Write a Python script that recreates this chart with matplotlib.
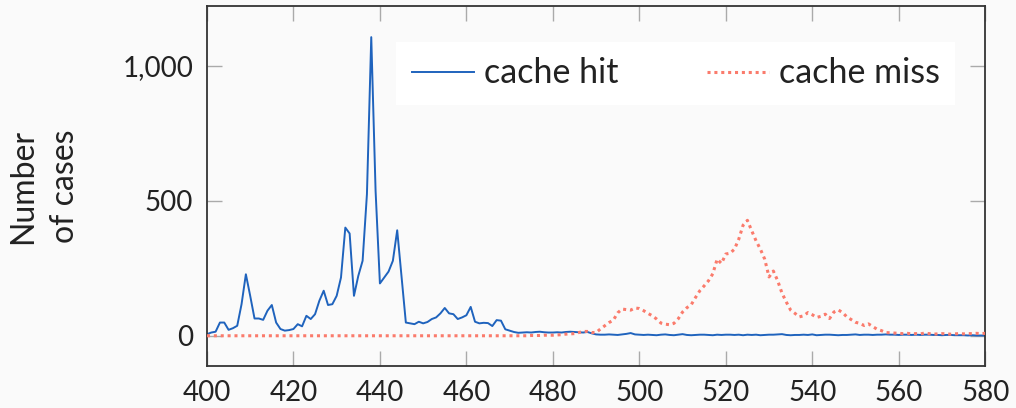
import matplotlib
matplotlib.use("Agg")
import matplotlib.pyplot as plt
from matplotlib.ticker import FuncFormatter

# x positions (one sample per unit)
x_vals = list(range(400, 581))

# cache hit counts, 400..580
hit = [
    6, 12, 15, 49, 49, 22, 28, 37, 117, 228,
    148, 64, 64, 59, 93, 114, 49, 25, 19, 21,
    25, 43, 35, 74, 62, 80, 130, 167, 114, 117,
    148, 216, 401, 379, 148, 222, 278, 525, 1107, 537,
    194, 216, 238, 278, 391, 220, 49, 46, 43, 52,
    46, 51, 62, 68, 83, 103, 83, 80, 62, 68,
    76, 107, 52, 46, 48, 47, 36, 58, 56, 24,
    19, 14, 11, 12, 13, 12, 14, 15, 13, 12,
    12, 13, 12, 14, 15, 14, 13, 12, 14, 9,
    5, 4, 4, 5, 4, 3, 5, 7, 10, 5,
    4, 3, 4, 3, 2, 4, 5, 3, 2, 4,
    6, 3, 2, 3, 4, 4, 3, 2, 4, 3,
    4, 4, 3, 4, 2, 4, 3, 4, 2, 3,
    4, 4, 5, 6, 3, 2, 3, 3, 4, 3,
    5, 2, 3, 4, 4, 3, 2, 3, 3, 4,
    5, 3, 4, 4, 3, 4, 4, 5, 4, 4,
    3, 4, 4, 3, 4, 3, 4, 4, 3, 3,
    2, 3, 3, 2, 2, 2, 1, 2, 1, 1,
    1,
]

# cache miss counts, 400..580
miss = [
    0, 0, 0, 0, 0, 0, 0, 0, 0, 0,
    0, 0, 0, 0, 0, 0, 0, 0, 0, 0,
    0, 0, 0, 0, 0, 0, 0, 0, 0, 0,
    0, 0, 0, 0, 0, 0, 0, 0, 0, 0,
    0, 0, 0, 0, 0, 0, 0, 0, 0, 0,
    0, 0, 0, 0, 0, 0, 0, 0, 0, 0,
    0, 0, 0, 0, 0, 0, 0, 0, 0, 0,
    0, 0, 0, 0, 0, 1, 1, 1, 2, 2,
    2, 3, 4, 6, 7, 8, 12, 16, 16, 12,
    12, 25, 37, 49, 58, 85, 99, 97, 95, 103,
    101, 93, 83, 74, 62, 47, 43, 41, 46, 63,
    88, 104, 115, 142, 167, 185, 204, 230, 284, 268,
    303, 306, 321, 358, 410, 428, 389, 352, 321, 284,
    218, 240, 204, 158, 125, 95, 83, 70, 74, 86,
    78, 68, 72, 80, 64, 88, 96, 86, 70, 60,
    50, 46, 38, 44, 34, 24, 19, 12, 11, 10,
    9, 8, 9, 7, 8, 7, 10, 8, 6, 7,
    8, 7, 6, 7, 8, 7, 8, 8, 9, 8,
    9,
]

x_ticks = [400, 420, 440, 460, 480, 500, 520, 540, 560, 580]
y_ticks = [0, 500, 1000]

assert len(hit) == len(x_vals) and len(miss) == len(x_vals)

plt.rcParams['font.family'] = ['Lato', 'DejaVu Sans']

bg = '#fafafa'
fig = plt.figure(figsize=(10.16, 4.08), dpi=100, facecolor=bg)
ax = fig.add_axes([0.2037, 0.103, 0.766, 0.882])
ax.set_facecolor(bg)

ax.plot(x_vals, hit, color='#1f63bd', lw=1.4, label='cache hit', zorder=2)
ax.plot(x_vals, miss, color='#fa7b6c', lw=2.2, linestyle=(0, (1, 1.25)),
        label='cache miss', zorder=3)

ax.set_xlim(400, 580)
ax.set_ylim(-112, 1222)
ax.set_xticks(x_ticks)
ax.set_yticks(y_ticks)
ax.yaxis.set_major_formatter(FuncFormatter(lambda v, p: '{:,.0f}'.format(v)))

ax.tick_params(direction='in', length=11, width=1, color='#aaaaaa',
               top=True, right=True, labelsize=20, labelcolor='#222222', pad=10)
for s in ax.spines.values():
    s.set_color('#333333')
    s.set_linewidth(1.3)

ax.set_ylabel('Number\nof cases', fontsize=23, color='#222222', linespacing=1.5,
              multialignment='center')
ax.yaxis.set_label_coords(-0.163, 0.5)

leg = ax.legend(loc='upper right', bbox_to_anchor=(0.9614, 0.9), ncol=2,
                fontsize=24.5, frameon=True, fancybox=False, framealpha=1,
                handlelength=1.82, columnspacing=2.6, handletextpad=0.3,
                borderpad=0.45, borderaxespad=0)
leg.get_frame().set_facecolor('white')
leg.get_frame().set_edgecolor('none')
for t in leg.get_texts():
    t.set_color('#222222')

fig.savefig('out.png', dpi=100, facecolor=bg)
